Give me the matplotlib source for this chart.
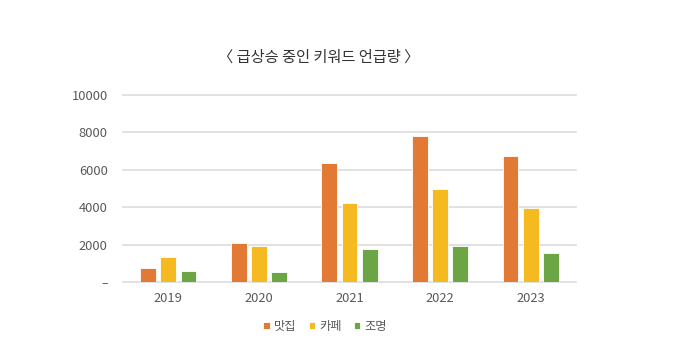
import matplotlib
matplotlib.use('Agg')
import matplotlib.pyplot as plt
import numpy as np

plt.rcParams['font.family'] = ['Noto Sans CJK KR', 'DejaVu Sans']

# 데이터
years = ['2019', '2020', '2021', '2022', '2023']
series_names = ['맛집', '카페', '조명']
matjip = [730, 2100, 6380, 7790, 6720]
cafe = [1350, 1920, 4200, 4960, 3980]
light = [590, 530, 1760, 1950, 1570]
yticks = [0, 2000, 4000, 6000, 8000, 10000]
ytick_labels = ['–', '2000', '4000', '6000', '8000', '10000']
title = '〈 급상승 중인 키워드 언급량 〉'

colors = ['#E27A35', '#F4BA1F', '#6CA544']
text_c = '#595959'

fig = plt.figure(figsize=(6.8, 3.56), dpi=100)
ax = fig.add_axes([0.181, 0.208, 0.666, 0.525])

x = np.arange(len(years))
w = 0.175
step = 0.222
for i, (vals, c, name) in enumerate(zip([matjip, cafe, light], colors, series_names)):
    ax.bar(x + (i - 1) * step, vals, width=w, color=c, label=name,
           edgecolor='white', linewidth=0.6, zorder=3)

ax.set_xlim(-0.5, len(years) - 0.5)
ax.set_ylim(0, 10000)
for yv in yticks:
    ax.axhline(yv, color='#D9D9D9', lw=1.1, zorder=1, clip_on=False)
for s in ax.spines.values():
    s.set_visible(False)
ax.set_yticks(yticks)
ax.set_yticklabels(ytick_labels)
ax.set_xticks(x)
ax.set_xticklabels(years)
ax.tick_params(axis='both', length=0, labelsize=9.3, colors=text_c)
ax.tick_params(axis='y', pad=11)
ax.tick_params(axis='x', pad=7)
ax.get_yticklabels()[0].set_family('DejaVu Sans')

fig.text(0.469, 0.84, title, ha='center', va='center', fontsize=11,
         fontweight='medium', color='#333333')

leg = fig.legend(loc='center', bbox_to_anchor=(0.478, 0.083), ncol=3, frameon=False,
                 fontsize=8.8, handlelength=0.55, handleheight=0.55, handletextpad=0.3,
                 columnspacing=1.0)
for t in leg.get_texts():
    t.set_color(text_c)

fig.savefig('out.png', dpi=100)
